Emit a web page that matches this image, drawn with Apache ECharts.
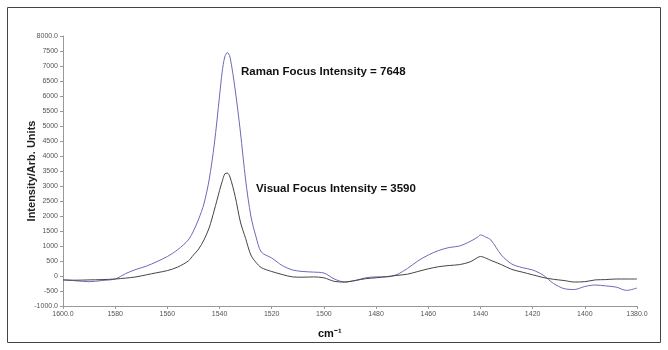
<!DOCTYPE html>
<html>
<head>
<meta charset="utf-8">
<script src="https://cdn.jsdelivr.net/npm/echarts@6/dist/echarts.min.js"></script>
<style>
  html, body { margin: 0; padding: 0; background: #fff; }
  #main { width: 668px; height: 350px; }
</style>
</head>
<body>
<div id="main"></div>
<script>
// wavenumber grid (cm-1)
var wavenumbers = [1600, 1595, 1590, 1585, 1580, 1576, 1572, 1568, 1564, 1560, 1556, 1552, 1550, 1548, 1546, 1544, 1542, 1540, 1539, 1538, 1537, 1536, 1534, 1532, 1530, 1528, 1526, 1524, 1520, 1516, 1512, 1508, 1504, 1500, 1496, 1492, 1488, 1484, 1480, 1476, 1472, 1468, 1464, 1460, 1456, 1452, 1448, 1444, 1441, 1440, 1438, 1436, 1432, 1428, 1424, 1420, 1416, 1412, 1408, 1404, 1400, 1396, 1392, 1388, 1384, 1380];
// Raman focus (blue)
var raman = [-130, -160, -190, -150, -100, 80, 220, 330, 480, 650, 880, 1200, 1500, 1900, 2400, 3200, 4400, 6000, 6800, 7300, 7450, 7300, 6200, 4800, 3200, 2000, 1300, 800, 600, 350, 200, 150, 130, 100, -100, -200, -150, -60, -30, -30, 50, 250, 500, 700, 850, 950, 1000, 1150, 1300, 1370, 1300, 1200, 700, 400, 280, 200, 30, -250, -420, -450, -350, -300, -330, -370, -480, -400];
// Visual focus (black)
var visual = [-130, -140, -130, -120, -100, -70, -30, 40, 110, 180, 300, 500, 700, 900, 1200, 1600, 2200, 2850, 3150, 3400, 3430, 3300, 2650, 1800, 1250, 700, 450, 280, 150, 50, -30, -40, -30, -60, -180, -200, -150, -90, -60, -20, 20, 60, 150, 240, 310, 350, 380, 470, 620, 650, 600, 520, 380, 220, 130, 40, -50, -110, -150, -200, -190, -130, -120, -100, -100, -100];

function pairs(ys) {
    var out = [];
    wavenumbers.forEach(function (w, i) { out.push([w, ys[i]]); });
    return out;
}

var myChart = echarts.init(document.getElementById('main'));
var axisFont = { fontFamily: 'Liberation Sans', fontSize: 7, color: '#555' };
var option = {
    animation: false,
    grid: { left: 63, right: 31, top: 36, bottom: 44 },
    xAxis: {
        type: 'value',
        inverse: true,
        min: 1380,
        max: 1600,
        interval: 20,
        splitLine: { show: false },
        axisLine: { onZero: false, lineStyle: { color: '#999' } },
        axisTick: { length: 3, lineStyle: { color: '#999' } },
        axisLabel: Object.assign({
            margin: 5,
            formatter: function (v) { return (v === 1600 || v === 1380) ? v.toFixed(1) : String(v); }
        }, axisFont)
    },
    yAxis: {
        type: 'value',
        min: -1000,
        max: 8000,
        interval: 500,
        splitLine: { show: false },
        axisLine: { show: true, onZero: false, lineStyle: { color: '#999' } },
        axisTick: { show: true, length: 3, lineStyle: { color: '#999' } },
        axisLabel: Object.assign({
            margin: 5,
            formatter: function (v) { return (v === 8000 || v === -1000) ? v.toFixed(1) : String(v); }
        }, axisFont)
    },
    graphic: [
        { type: 'rect', shape: { x: 7.5, y: 7.5, width: 653, height: 335 }, style: { fill: 'none', stroke: '#444', lineWidth: 1 }, silent: true },
        { type: 'text', x: 32, y: 171, rotation: Math.PI / 2, style: { text: 'Intensity/Arb. Units', font: 'bold 11px "Liberation Sans"', fill: '#222', align: 'center', verticalAlign: 'middle' } },
        { type: 'text', left: 241, top: 66, style: { text: 'Raman Focus Intensity = 7648', font: 'bold 11.5px "Liberation Sans"', fill: '#111' } },
        { type: 'text', left: 256, top: 183, style: { text: 'Visual Focus Intensity = 3590', font: 'bold 11.5px "Liberation Sans"', fill: '#111' } },
        { type: 'text', left: 318, top: 328, style: { text: 'cm⁻¹', font: 'bold 11px "Liberation Sans"', fill: '#111' } }
    ],
    series: [
        {
            name: 'Raman Focus',
            type: 'line',
            data: pairs(raman),
            showSymbol: false,
            smooth: 0.3,
            lineStyle: { color: '#6a6ab8', width: 1 }
        },
        {
            name: 'Visual Focus',
            type: 'line',
            data: pairs(visual),
            showSymbol: false,
            smooth: 0.3,
            lineStyle: { color: '#444', width: 1 }
        }
    ]
};
option && myChart.setOption(option);
</script>
</body>
</html>
